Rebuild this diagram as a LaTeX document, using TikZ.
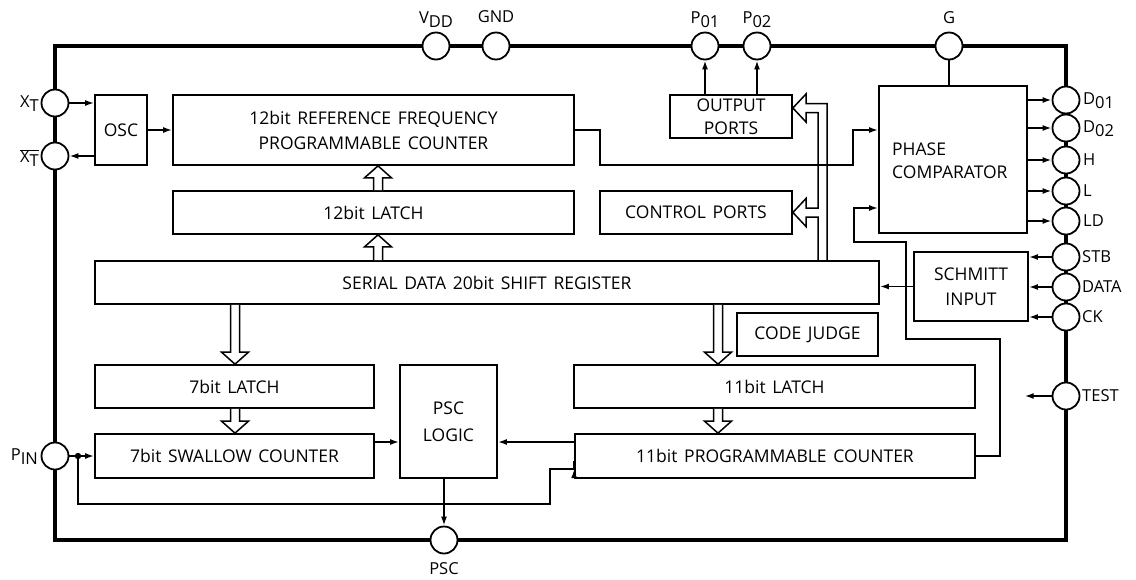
\documentclass[tikz,border=0pt]{standalone}
\usepackage{fontspec}
\setmainfont{Open Sans}
\usetikzlibrary{arrows.meta,calc}
\newcommand\sub[1]{\raisebox{-0.45ex}{#1}}
\newcommand\busv[3]{%
\draw[bus] let \p1=(#1), \p2=(#2) in
 ({\x1-4.5pt},\y1) -- ({\x1-4.5pt},{\y2#312pt}) -- ({\x1-13.5pt},{\y2#312pt}) -- (\x1,\y2)
 -- ({\x1+13.5pt},{\y2#312pt}) -- ({\x1+4.5pt},{\y2#312pt}) -- ({\x1+4.5pt},\y1);}
\newcommand\mainfs{\fontsize{17.5}{25}\selectfont\spaceskip=0.38em plus 0.1em\relax}
\begin{document}
\begin{tikzpicture}[x=1pt,y=-1pt, font=\mainfs,
 blk/.style={draw, line width=1.7pt, inner sep=0pt, align=center, fill=white},
 pinc/.style={circle, draw, line width=1.8pt, fill=white, minimum size=27pt, inner sep=0pt},
 lbl/.style={inner sep=0pt, font=\fontsize{16.5}{18}\selectfont},
 wire/.style={line width=1.7pt},
 arr/.style={wire, -{Latex[length=9pt,width=6pt]}},
 bus/.style={line width=1.5pt, fill=white, line join=miter},
 frame/.style={line width=3.6pt}]
\useasboundingbox (0,0) rectangle (1136,579);
% frame
\draw[frame] (55,46) rectangle (1066,540);
% pins
\node[pinc] (xt)   at (55,103) {};
\node[pinc] (xtb)  at (55,156) {};
\node[pinc] (pin)  at (55,456) {};
\node[pinc] (vdd)  at (436,46) {};
\node[pinc] (gnd)  at (496,46) {};
\node[pinc] (p01)  at (705,46) {};
\node[pinc] (p02)  at (757,46) {};
\node[pinc] (g)    at (949,46) {};
\node[pinc] (d01)  at (1066,100) {};
\node[pinc] (d02)  at (1066,128) {};
\node[pinc] (h)    at (1066,160) {};
\node[pinc] (l)    at (1066,191) {};
\node[pinc] (ld)   at (1066,221) {};
\node[pinc] (stb)  at (1066,257) {};
\node[pinc] (data) at (1066,287) {};
\node[pinc] (ck)   at (1066,317) {};
\node[pinc] (test) at (1066,396) {};
\node[pinc] (pscp) at (444,540) {};
% pin labels
\node[lbl, anchor=east] (lxt)  at (39,104) {X\sub{T}};
\node[lbl, anchor=east] (lxtb) at (39,158) {$\overline{\mbox{X\sub{T}}}$};
\node[lbl, anchor=east] (lpin) at (38,457) {P\sub{IN}};
\node[lbl] (lvdd) at (436,20) {V\sub{DD}};
\node[lbl] (lgnd) at (496,17) {GND};
\node[lbl] (lp01) at (705,20) {P\sub{01}};
\node[lbl] (lp02) at (757,20) {P\sub{02}};
\node[lbl] (lg)   at (949,18) {G};
\node[lbl, anchor=west] (ld01) at (1083,101) {D\sub{01}};
\node[lbl, anchor=west] (ld02) at (1083,129) {D\sub{02}};
\node[lbl, anchor=west] (lh)   at (1083,160) {H};
\node[lbl, anchor=west] (ll)   at (1083,191) {L};
\node[lbl, anchor=west] (lld)  at (1083,221) {LD};
\node[lbl, anchor=west] (lstb) at (1082,257) {STB};
\node[lbl, anchor=west] (ldata) at (1082,287) {DATA};
\node[lbl, anchor=west] (lck)  at (1082,317) {CK};
\node[lbl, anchor=west] (ltest) at (1082,396) {TEST};
\node[lbl] (lpsc) at (444,569) {PSC};
% blocks
\node[blk, minimum width=52pt, minimum height=70pt] (osc) at (121,130) {OSC};
\node[blk, minimum width=401pt, minimum height=70pt] (ref) at (373.5,130) {12bit REFERENCE FREQUENCY\\PROGRAMMABLE COUNTER};
\node[blk, minimum width=401pt, minimum height=43pt] (lat12) at (373.5,212.5) {12bit LATCH};
\node[blk, minimum width=122pt, minimum height=43pt] (outp) at (731,116.5) {OUTPUT\\[-2pt]PORTS};
\node[blk, minimum width=192pt, minimum height=43pt] (ctrl) at (696,212.5) {CONTROL PORTS};
\node[blk, minimum width=148pt, minimum height=147pt] (pc) at (953,159.5) {};
\node[inner sep=0pt, anchor=west, align=left] (pct) at (892,161) {PHASE\\[-2pt]COMPARATOR};
\node[blk, minimum width=784pt, minimum height=43pt] (shift) at (487,282.5) {SERIAL DATA 20bit SHIFT REGISTER};
\node[blk, minimum width=114pt, minimum height=69pt] (schm) at (971,286.5) {SCHMITT\\INPUT};
\node[blk, minimum width=141pt, minimum height=43pt] (code) at (807.5,334.5) {CODE JUDGE};
\node[blk, minimum width=279pt, minimum height=43pt] (lat7) at (234.5,386.5) {7bit LATCH};
\node[blk, minimum width=97pt, minimum height=113pt] (psc) at (448.5,421.5) {PSC\\[2pt]LOGIC};
\node[blk, minimum width=401pt, minimum height=43pt] (lat11) at (774.5,386.5) {11bit LATCH};
\node[blk, minimum width=279pt, minimum height=44pt] (swal) at (234.5,456) {7bit SWALLOW COUNTER};
\node[blk, minimum width=400pt, minimum height=44pt] (prog) at (775,456) {11bit PROGRAMMABLE COUNTER};
% helper coordinates
\coordinate (bx1) at (378,0);
\coordinate (bx2) at (235,0);
\coordinate (bx3) at (718,0);
\coordinate (j1) at (600,165);
\coordinate (j2) at (853,130);
\coordinate (f1) at (1000,339);
\coordinate (f2) at (906,242);
\coordinate (f3) at (854,208);
\coordinate (dot) at (78,456);
\coordinate (q1) at (550,504);
\coordinate (q2) at ([yshift=-13pt]prog.west);
\coordinate (s1) at ([yshift=14pt]swal.east);
\coordinate (s2) at ([yshift=14pt]prog.west);
\coordinate (t1) at ([xshift=-27pt]test.west);
% connectors
\draw[arr] (xt.east) -- (xt.east -| osc.west);
\draw[arr] (osc.west |- xtb.east) -- (xtb.east);
\draw[arr] (osc.east) -- (ref.west);
\draw[arr] (ref.east) -| (j1) -| (j2) -- (j2 -| pc.west);
\draw[wire] (g.south) -- (g |- pc.north);
\draw[arr] (p01 |- outp.north) -- (p01.south);
\draw[arr] (p02 |- outp.north) -- (p02.south);
\foreach \p in {d01,d02,h,l,ld} \draw[arr] (pc.east |- \p) -- (\p.west);
\foreach \p in {stb,data,ck} \draw[arr] (\p.west) -- (\p.west -| schm.east);
\draw[arr] (schm.west) -- (schm.west -| shift.east);
\draw[arr] (prog.east) -| (f1) -| (f2) -| (f3) -- (f3 -| pc.west);
\draw[arr] (s1) -- (s1 -| psc.west);
\draw[arr] (s2) -- (s2 -| psc.east);
\draw[arr] (pscp |- psc.south) -- (pscp.north);
\draw[arr] (pin.east) -- (swal.west);
\fill (dot) circle (3.2pt);
\draw[arr] (dot) |- (q1) |- (q2) -- (prog.west |- q2);
\draw[arr] (test.west) -- (t1);
% buses
\busv{bx1 |- shift.north}{bx1 |- lat12.south}{-}
\busv{bx1 |- lat12.north}{bx1 |- ref.south}{-}
\busv{bx2 |- shift.south}{bx2 |- lat7.north}{+}
\busv{bx3 |- shift.south}{bx3 |- lat11.north}{+}
\busv{bx2 |- lat7.south}{bx2 |- swal.north}{+}
\busv{bx3 |- lat11.south}{bx3 |- prog.north}{+}
\draw[bus, fill=none] let \p1=([yshift=8.5pt]outp.east), \p2=(ctrl.east), \p3=(shift.north) in
 (827,\y3) -- (827,{\y1+4.5pt}) -- (806,{\y1+4.5pt}) -- (806,{\y1+14pt}) -- (\x1,\y1)
 -- (806,{\y1-14pt}) -- (806,{\y1-4.5pt}) -- (818,{\y1-4.5pt}) -- (818,{\y2+4.5pt})
 -- (806,{\y2+4.5pt}) -- (806,{\y2+14pt}) -- (\x2,\y2) -- (806,{\y2-14pt})
 -- (806,{\y2-4.5pt}) -- (818,{\y2-4.5pt}) -- (818,\y3);
\end{tikzpicture}
\end{document}
